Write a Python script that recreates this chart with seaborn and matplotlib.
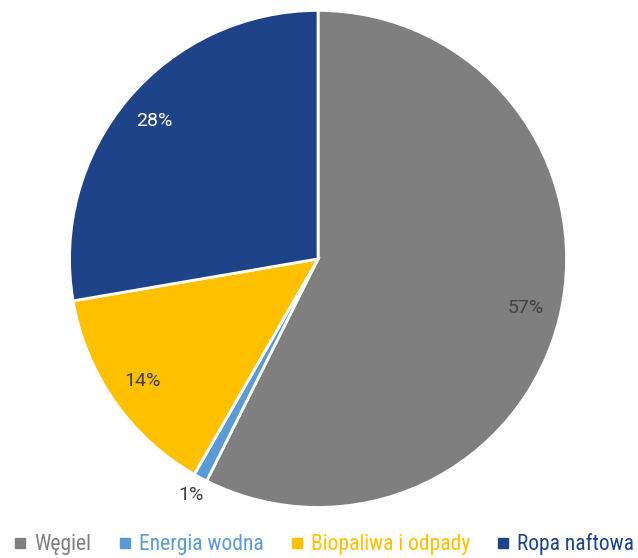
import matplotlib
matplotlib.use("Agg")
import matplotlib.pyplot as plt
import seaborn as sns
import numpy as np
from matplotlib.lines import Line2D
from matplotlib import font_manager

categories = ["Węgiel", "Energia wodna", "Biopaliwa i odpady", "Ropa naftowa"]
shares = [57.4, 0.9, 14.0, 27.7]
pct_labels = ["57%", "1%", "14%", "28%"]
colors = ["#7f7f7f", "#5b9bd5", "#ffc000", "#1f4389"]
label_colors = ["#404040", "#404040", "#404040", "#ffffff"]

sns.set_theme(style="white")
avail = {f.name for f in font_manager.fontManager.ttflist}
fam = [f for f in ["Roboto Condensed", "Liberation Sans Narrow", "Roboto", "DejaVu Sans"] if f in avail]
pct_fam = [f for f in ["Roboto", "DejaVu Sans"] if f in avail]
plt.rcParams["font.family"] = fam

fig = plt.figure(figsize=(6.38, 5.58), dpi=100)
ax = fig.add_axes([0.109, 0.0905, 0.779, 0.891])
wedges, texts = ax.pie(shares, colors=colors, startangle=90, counterclock=False,
                       wedgeprops=dict(edgecolor="white", linewidth=2))
ax.set_xlim(-1, 1)
ax.set_ylim(-1, 1)
ax.set_aspect("equal")
ax.axis("off")

cum = np.cumsum([0] + shares[:-1])
for i, (s, c0) in enumerate(zip(shares, cum)):
    mid = np.deg2rad(90 - (c0 + s / 2) * 3.6)
    r = 1.08 if s < 3 else 0.86
    ax.text(r * np.cos(mid), r * np.sin(mid), pct_labels[i], ha="center", va="center",
            fontsize=14, color=label_colors[i], family=pct_fam)

handles = [Line2D([0], [0], marker="s", linestyle="", markersize=6.5,
                  markerfacecolor=c, markeredgecolor=c) for c in colors]
leg = fig.legend(handles, categories, loc="lower center", ncol=4, frameon=False,
                 bbox_to_anchor=(0.508, -0.03), fontsize=15.5, handlelength=0.6,
                 handletextpad=0.35, columnspacing=1.25)
for t, c in zip(leg.get_texts(), colors):
    t.set_color(c)

fig.savefig("out.png", dpi=100)
